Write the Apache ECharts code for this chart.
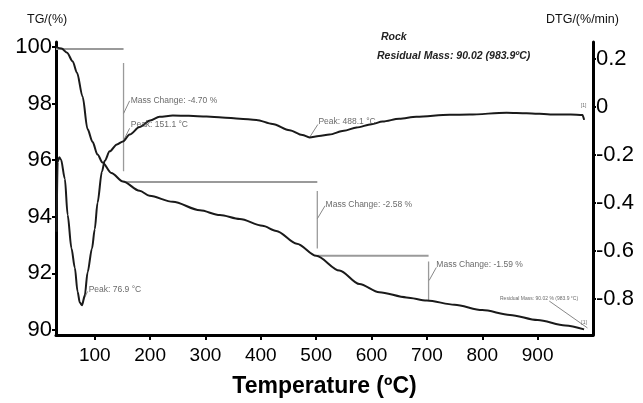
<!DOCTYPE html>
<html>
<head>
<meta charset="utf-8">
<script src="https://cdn.jsdelivr.net/npm/echarts@6/dist/echarts.min.js"></script>
<style>
html,body{margin:0;padding:0;background:#fff}
#main{width:643px;height:403px}
</style>
</head>
<body>
<div id="main"></div>
<script>
//TG曲线 (温度, 质量%)
var tgTemp = [30, 40, 50, 60, 68, 78, 87, 96, 105, 114, 130, 151, 181, 199, 241, 290, 326, 362, 403, 428, 465, 500, 542, 578, 614, 663, 700, 750, 800, 850, 900, 950, 983.9];
var tgMass = [100.0, 99.95, 99.8, 99.5, 99.09, 98.25, 97.1, 96.65, 96.2, 95.92, 95.55, 95.25, 94.92, 94.74, 94.53, 94.23, 94.06, 93.92, 93.68, 93.5, 93.05, 92.62, 92.1, 91.62, 91.33, 91.15, 91.04, 90.89, 90.7, 90.53, 90.35, 90.16, 90.02];

//DTG曲线 (温度, %/min)
var dtgTemp = [31, 33, 36, 39, 46, 51, 58, 64, 69, 73, 77, 82, 87, 95, 100, 105, 113, 118, 127, 140, 151, 163, 181, 200, 217, 241, 270, 302, 330, 362, 392, 421, 452, 475, 488, 505, 524, 550, 573, 600, 620, 650, 681, 741, 777, 844, 880, 927, 960, 981, 984];
var dtgRate = [-0.52, -0.23, -0.21, -0.22, -0.30, -0.45, -0.59, -0.67, -0.77, -0.815, -0.826, -0.785, -0.69, -0.59, -0.51, -0.40, -0.27, -0.225, -0.186, -0.157, -0.145, -0.116, -0.085, -0.058, -0.042, -0.037, -0.038, -0.041, -0.045, -0.05, -0.055, -0.072, -0.098, -0.118, -0.128, -0.122, -0.116, -0.10, -0.087, -0.073, -0.062, -0.05, -0.042, -0.034, -0.033, -0.025, -0.027, -0.033, -0.033, -0.035, -0.055];

//刻度
var xTicks = [100, 200, 300, 400, 500, 600, 700, 800, 900];
var tgTicks = [90, 92, 94, 96, 98, 100];
var dtgTicks = [-0.8, -0.6, -0.4, -0.2, 0, 0.2];

//质量变化标注线 (TG轴)
var stepX = [[30, 152], [152, 152], [152, 502], [502, 502], [502, 703], [703, 703]];
var stepY = [[99.93, 99.93], [99.44, 95.61], [95.23, 95.23], [94.91, 92.88], [92.62, 92.62], [92.42, 91.05]];

//引线
var tgLeadX = [[152, 163], [502, 516], [704, 717], [921, 990]];
var tgLeadY = [[97.65, 98.1], [93.93, 94.39], [91.75, 92.21], [91.02, 90.07]];
var dtgLeadX = [[77, 87], [151, 163], [488, 503]];
var dtgLeadY = [[-0.818, -0.769], [-0.145, -0.09], [-0.128, -0.074]];

//标注文字
var tgNotes = ['Mass Change: -4.70 %', 'Mass Change: -2.58 %', 'Mass Change: -1.59 %', 'Residual Mass: 90.02 % (983.9 °C)', '[1]'];
var tgNotePos = [[165, 98.1], [517, 94.42], [717, 92.32], [832, 91.12], [979, 90.25]];
var dtgNotes = ['Peak: 76.9 °C', 'Peak: 151.1 °C', 'Peak: 488.1 °C', '[1]'];
var dtgNotePos = [[89, -0.76], [165, -0.074], [504, -0.062], [978, 0.005]];

var font = 'Liberation Sans, Arial, sans-serif';

function zip(a, b) {
    var out = [];
    for (var i = 0; i < a.length; i++) {
        out.push([a[i], b[i]]);
    }
    return out;
}

var series = [
    {
        name: 'TG',
        type: 'line',
        yAxisIndex: 0,
        smooth: 0.3,
        smoothMonotone: 'x',
        symbol: 'none',
        lineStyle: {color: '#1a1a1a', width: 2},
        z: 5,
        data: zip(tgTemp, tgMass)
    },
    {
        name: 'DTG',
        type: 'line',
        yAxisIndex: 1,
        smooth: 0.3,
        smoothMonotone: 'x',
        symbol: 'none',
        lineStyle: {color: '#1a1a1a', width: 2},
        z: 5,
        data: zip(dtgTemp, dtgRate)
    }
];

//标注线段
stepX.forEach(function (xs, i) {
    series.push({
        type: 'line',
        yAxisIndex: 0,
        symbol: 'none',
        lineStyle: {color: '#9a9a9a', width: xs[0] === xs[1] ? 1.3 : 2},
        z: 3,
        data: zip(xs, stepY[i])
    });
});
tgLeadX.forEach(function (xs, i) {
    series.push({
        type: 'line',
        yAxisIndex: 0,
        symbol: 'none',
        lineStyle: {color: '#888', width: 1},
        z: 3,
        data: zip(xs, tgLeadY[i])
    });
});
dtgLeadX.forEach(function (xs, i) {
    series.push({
        type: 'line',
        yAxisIndex: 1,
        symbol: 'none',
        lineStyle: {color: '#888', width: 1},
        z: 3,
        data: zip(xs, dtgLeadY[i])
    });
});

//标注文字
function notes(texts, pos, axis) {
    return {
        type: 'scatter',
        yAxisIndex: axis,
        symbolSize: 0,
        z: 6,
        label: {
            show: true,
            position: 'right',
            distance: 0,
            formatter: function (p) { return p.name; },
            color: '#444',
            fontFamily: font,
            fontSize: 8.5
        },
        data: texts.map(function (t, i) {
            var item = {name: t, value: pos[i]};
            if (t.indexOf('Residual') === 0 || t === '[1]') {
                item.label = {fontSize: 5};
            }
            return item;
        })
    };
}
series.push(notes(tgNotes, tgNotePos, 0));
series.push(notes(dtgNotes, dtgNotePos, 1));

var myChart = echarts.init(document.getElementById('main'));
var option = {
    animation: false,
    backgroundColor: '#fff',
    grid: {left: 56, right: 50, top: 42, bottom: 66},
    graphic: [
        {type: 'text', left: 27, top: 13, style: {text: 'TG/(%)', font: '12.5px ' + font, fill: '#111'}},
        {type: 'text', left: 546, top: 13, style: {text: 'DTG/(%/min)', font: '12.5px ' + font, fill: '#111'}},
        {type: 'text', left: 381, top: 32, style: {text: 'Rock', font: 'italic bold 10.5px ' + font, fill: '#222'}},
        {type: 'text', left: 377, top: 51, style: {text: 'Residual Mass: 90.02 (983.9ºC)', font: 'italic bold 10.5px ' + font, fill: '#222'}}
    ],
    xAxis: {
        type: 'value',
        min: 30,
        max: 1000,
        name: 'Temperature (ºC)',
        nameLocation: 'middle',
        nameGap: 40,
        nameTextStyle: {fontFamily: font, fontSize: 23, fontWeight: 'bold', color: '#000'},
        axisLine: {show: true, onZero: false, lineStyle: {color: '#000', width: 3}},
        axisTick: {show: true, customValues: xTicks, length: 5, lineStyle: {color: '#000', width: 2}},
        axisLabel: {customValues: xTicks, margin: 11, fontFamily: font, fontSize: 19, color: '#000'},
        splitLine: {show: false}
    },
    yAxis: [
        {
            type: 'value',
            position: 'left',
            min: 89.82,
            max: 100.18,
            axisLine: {show: true, lineStyle: {color: '#000', width: 3}},
            axisTick: {show: true, customValues: tgTicks, length: 4, lineStyle: {color: '#000', width: 2}},
            axisLabel: {customValues: tgTicks, margin: 4, fontFamily: font, fontSize: 22, color: '#000'},
            splitLine: {show: false}
        },
        {
            type: 'value',
            position: 'right',
            min: -0.95,
            max: 0.269,
            axisLine: {show: true, lineStyle: {color: '#000', width: 3}},
            axisTick: {show: true, customValues: dtgTicks, length: 3, lineStyle: {color: '#000', width: 2}},
            axisLabel: {customValues: dtgTicks, margin: 3, fontFamily: font, fontSize: 22, color: '#000'},
            splitLine: {show: false}
        }
    ],
    series: series
};
myChart.setOption(option);
</script>
</body>
</html>
